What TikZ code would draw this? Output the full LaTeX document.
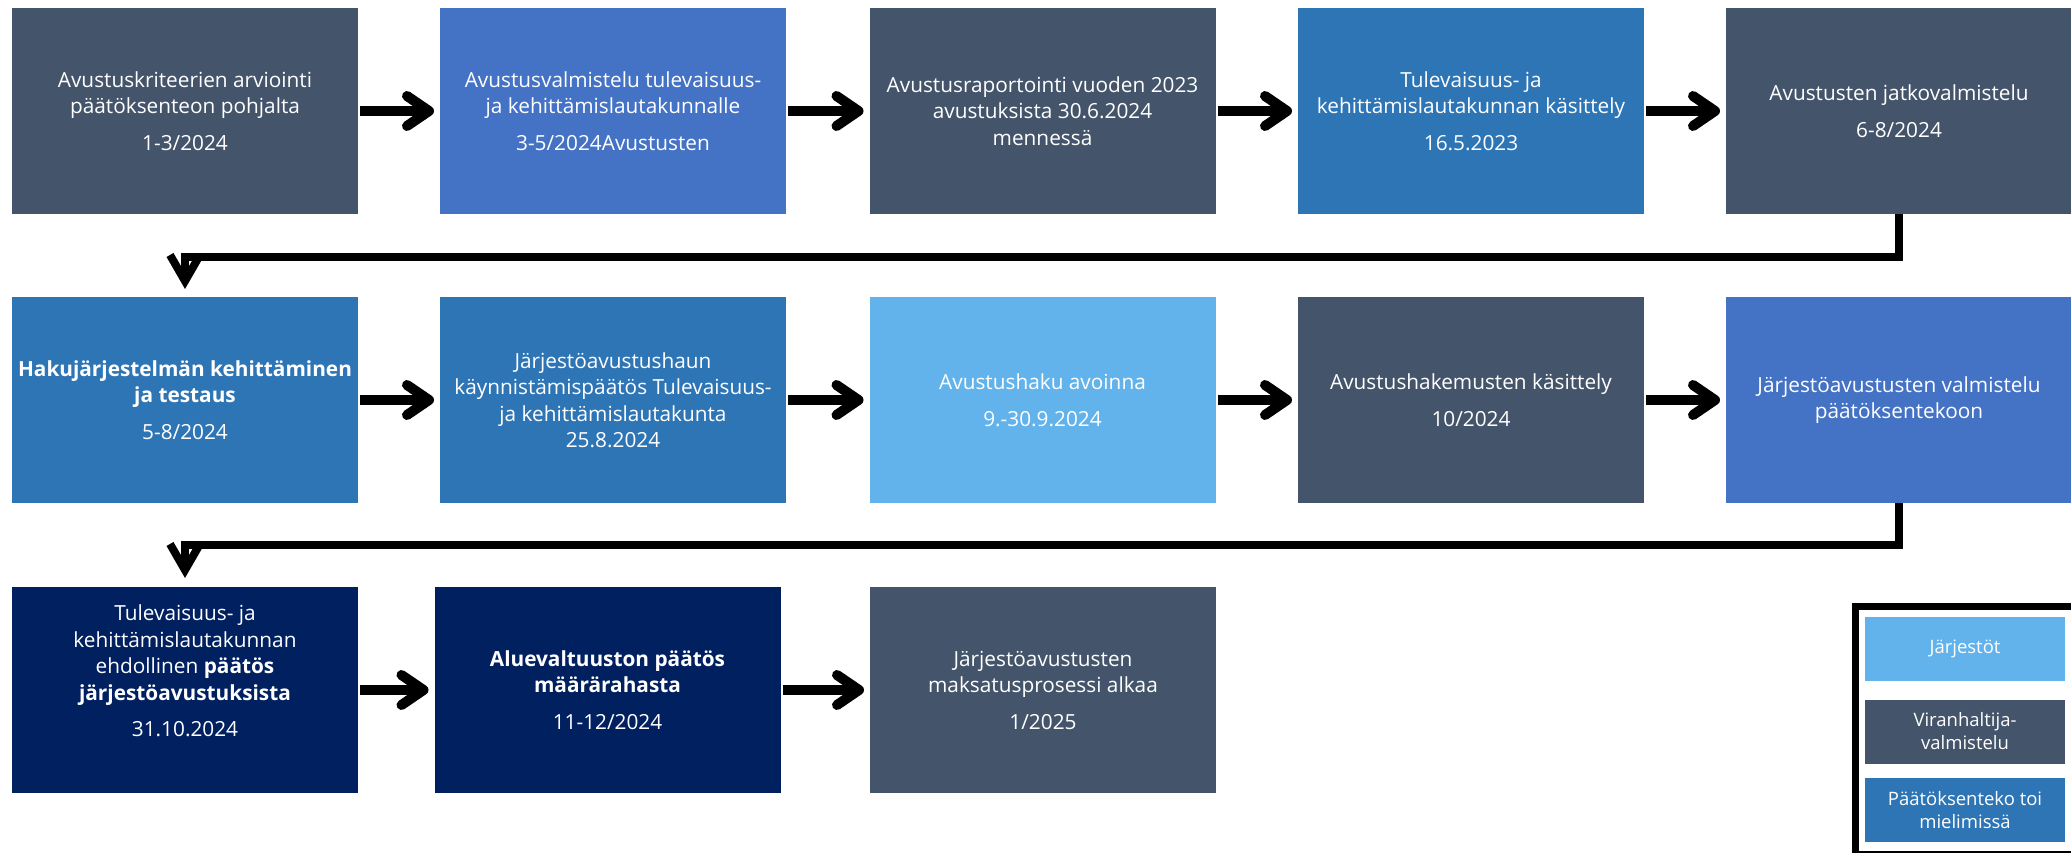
\documentclass[tikz,border=0pt]{standalone}
\usepackage{fontspec}
\setmainfont{Open Sans}
\usetikzlibrary{arrows.meta}
\definecolor{slate}{HTML}{44546A}
\definecolor{blueB}{HTML}{4472C4}
\definecolor{steelB}{HTML}{2E75B6}
\definecolor{lightB}{HTML}{62B3EB}
\definecolor{navyB}{HTML}{002060}
\begin{document}
\begin{tikzpicture}[x=1pt,y=-1pt,
  box/.style={minimum width=346pt,minimum height=206pt,inner sep=0pt,outer sep=0pt,text=white,align=center,font=\fontsize{20.8}{26.5}\selectfont},
  leg/.style={minimum width=200pt,minimum height=64pt,inner sep=0pt,outer sep=0pt,text=white,align=center,font=\fontsize{18.5}{23}\selectfont},
  harrow/.style={line width=10pt,shorten <=2pt,shorten >=6pt,-{Straight Barb[length=22pt,width=30pt,round]}},
  elbow/.style={line width=8pt,line join=miter,-{Straight Barb[length=26pt,width=30pt]}},
]
\useasboundingbox (0,0) rectangle (2071,853);
\clip (0,0) rectangle (2071,853);
% row 1
\node[box,fill=slate]  (b1) at (185,111) {Avustuskriteerien arviointi\\päätöksenteon pohjalta\\[10pt]1-3/2024};
\node[box,fill=blueB]  (b2) at (613,111) {Avustusvalmistelu tulevaisuus-\\ja kehittämislautakunnalle\\[10pt]3-5/2024Avustusten};
\node[box,fill=slate]  (b3) at (1042.5,111) {Avustusraportointi vuoden 2023\\avustuksista 30.6.2024\\mennessä};
\node[box,fill=steelB] (b4) at (1471,111) {Tulevaisuus- ja\\kehittämislautakunnan käsittely\\[10pt]16.5.2023};
\node[box,fill=slate]  (b5) at (1899,111) {Avustusten jatkovalmistelu\\[10pt]6-8/2024};
% row 2
\node[box,fill=steelB] (b6) at (185,400) {\textbf{Hakujärjestelmän kehittäminen}\\\textbf{ja testaus}\\[10pt]5-8/2024};
\node[box,fill=steelB] (b7) at (613,400) {Järjestöavustushaun\\käynnistämispäätös Tulevaisuus-\\ja kehittämislautakunta\\25.8.2024};
\node[box,fill=lightB] (b8) at (1042.5,400) {Avustushaku avoinna\\[10pt]9.-30.9.2024};
\node[box,fill=slate]  (b9) at (1471,400) {Avustushakemusten käsittely\\[10pt]10/2024};
\node[box,fill=blueB]  (b10) at (1899,400) {Järjestöavustusten valmistelu\\päätöksentekoon};
% row 3
\node[box,fill=navyB]  (b11) at (185,690) {Tulevaisuus- ja\\kehittämislautakunnan\\ehdollinen \textbf{päätös}\\\textbf{järjestöavustuksista}\\[10pt]31.10.2024\\[12pt]\mbox{}};
\node[box,fill=navyB]  (b12) at (607.5,690) {\textbf{Aluevaltuuston päätös}\\\textbf{määrärahasta}\\[10pt]11-12/2024};
\node[box,fill=slate]  (b13) at (1043,690) {Järjestöavustusten\\maksatusprosessi alkaa\\[10pt]1/2025};
% arrows
\draw[harrow] (b1) -- (b2);
\draw[harrow] (b2) -- (b3);
\draw[harrow] (b3) -- (b4);
\draw[harrow] (b4) -- (b5);
\draw[harrow] (b6) -- (b7);
\draw[harrow] (b7) -- (b8);
\draw[harrow] (b8) -- (b9);
\draw[harrow] (b9) -- (b10);
\draw[harrow] (b11) -- (b12);
\draw[harrow] (b12) -- (b13);
\draw[elbow,shorten >=8pt] (b5.south) -- ++(0,43) -| (b6.north);
\draw[elbow,shorten >=9pt] (b10.south) -- ++(0,42) -| (b11.north);
% legend
\draw[line width=7pt] (1855.5,606.5) rectangle (2090,854);
\node[leg,fill=lightB] (l1) at (1965,649) {Järjestöt};
\node[leg,fill=slate]  (l2) at (1965,731.5) {Viranhaltija-\\valmistelu};
\node[leg,fill=steelB] (l3) at (1965,810) {Päätöksenteko toi\\mielimissä};
\end{tikzpicture}
\end{document}
